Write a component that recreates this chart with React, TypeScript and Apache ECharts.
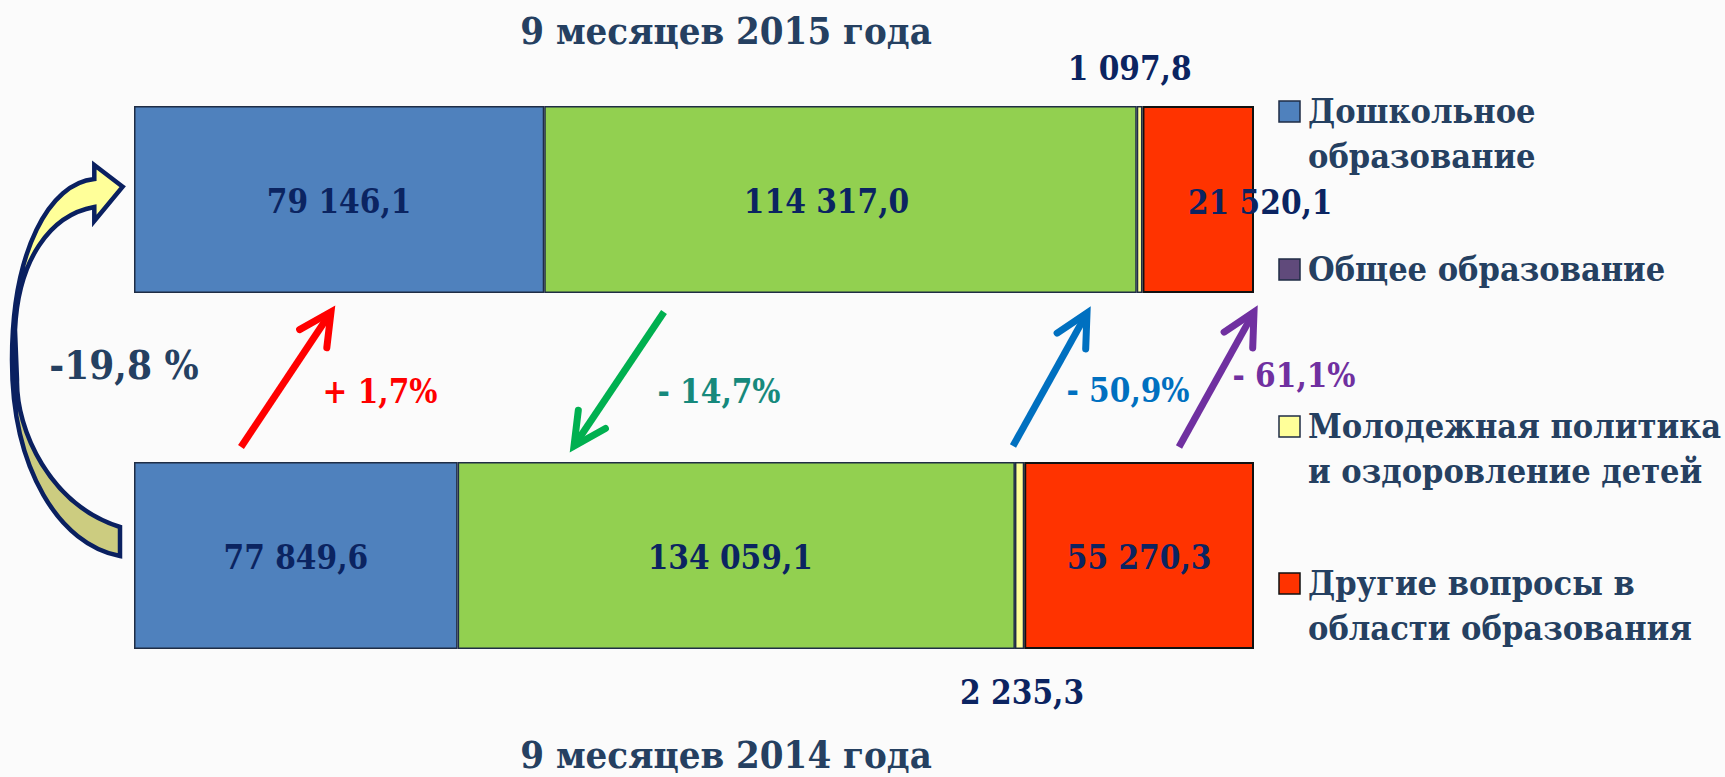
import React, { useEffect, useRef } from 'react';
import * as echarts from 'echarts';

// ---- data ----
const categories = [
  'Дошкольное образование',
  'Общее образование',
  'Молодежная политика и оздоровление детей',
  'Другие вопросы в области образования',
];
const values2015 = [79146.1, 114317.0, 1097.8, 21520.1];
const values2014 = [77849.6, 134059.1, 2235.3, 55270.3];
const periodLabels = ['9 месяцев 2015 года', '9 месяцев 2014 года'];
const segmentChanges = ['+ 1,7%', '- 14,7%', '- 50,9%', '- 61,1%'];
const totalChange = '-19,8 %';
const legendLines = [
  'Дошкольное\nобразование',
  'Общее образование',
  'Молодежная политика\nи оздоровление детей',
  'Другие вопросы в\nобласти образования',
];

// ---- styles ----
const barColors = ['#4f81bd', '#92d050', '#ffff99', '#ff3300'];
const legendColors = ['#4f81bd', '#604a7b', '#ffff99', '#ff3300'];
const arrowColors = ['#ff0000', '#00b050', '#0070c0', '#7030a0'];
const changeColors = ['#ff0000', '#16897c', '#0070c0', '#7030a0'];
const FONT = "'DejaVu Serif Condensed', 'DejaVu Serif', serif";
const TITLE_COLOR = '#254061';
const VALUE_COLOR = '#0b2461';

function fmt(v: number) {
  const [i, d] = v.toFixed(1).split('.');
  return i.replace(/\B(?=(\d{3})+(?!\d))/g, ' ') + ',' + d;
}

const arrowGeom = [
  { tail: [241, 447], tip: [331, 312], label: [380, 391] },
  { tail: [664, 312], tip: [574, 446], label: [719, 391] },
  { tail: [1013, 446], tip: [1087, 313], label: [1128, 390] },
  { tail: [1179, 447], tip: [1254, 312], label: [1294, 375] },
];

function arrowElements(tail: number[], tip: number[], color: string) {
  const dx = tail[0] - tip[0];
  const dy = tail[1] - tip[1];
  const L = Math.hypot(dx, dy);
  const ux = dx / L;
  const uy = dy / L;
  const len = 36;
  const a = (27 * Math.PI) / 180;
  const rot = (s: number) => [
    tip[0] + len * (ux * Math.cos(s * a) - uy * Math.sin(s * a)),
    tip[1] + len * (ux * Math.sin(s * a) + uy * Math.cos(s * a)),
  ];
  return [
    {
      type: 'line',
      shape: { x1: tail[0], y1: tail[1], x2: tip[0] + ux * 3, y2: tip[1] + uy * 3 },
      style: { stroke: color, lineWidth: 7, lineCap: 'butt' },
    },
    {
      type: 'polyline',
      shape: { points: [rot(1), tip, rot(-1)] },
      style: { stroke: color, lineWidth: 7, fill: null, lineJoin: 'miter', lineCap: 'round' },
    },
  ];
}

const CURVE_D =
  'M122.7 186.7 L94.3 165 L94.3 179 C50 183 12 250 12 360 C12 470 60 545 120 556 L120 527 C50 505 16 430 17 380 L15 330 C18 260 50 215 94.3 207 L94.3 221 Z';

let registered = false;

export default function App() {
  const ref = useRef<HTMLDivElement>(null);

  useEffect(() => {
    document.body.style.margin = '0';
    document.body.style.overflow = 'hidden';
    if (!registered) {
      echarts.graphic.registerShape('curvedArrow', echarts.graphic.extendPath(CURVE_D, {}));
      registered = true;
    }
    const chart = echarts.init(ref.current!, undefined, { renderer: 'svg' });

    const sum15 = values2015.reduce((a, b) => a + b, 0);
    const sum14 = values2014.reduce((a, b) => a + b, 0);

    const labelBase = {
      show: true,
      color: VALUE_COLOR,
      fontFamily: FONT,
      fontWeight: 'bold',
      fontSize: 33,
    };
    const labelCfg = [
      [
        { position: 'inside', offset: [0, 2] },
        { position: 'inside', offset: [-14, 2] },
        { position: ['50%', -37.5], align: 'center', verticalAlign: 'middle', offset: [-10, 0] },
        { position: 'inside', offset: [62, 3] },
      ],
      [
        { position: 'inside', offset: [0, 2] },
        { position: 'inside', offset: [-6, 2] },
        { position: ['50%', 230], align: 'center', verticalAlign: 'middle', offset: [2.5, 0] },
        { position: 'inside', offset: [0, 2] },
      ],
    ];

    const series: any[] = [];
    [values2015, values2014].forEach((vals, g) => {
      vals.forEach((v, i) => {
        series.push({
          type: 'bar',
          name: categories[i],
          xAxisIndex: g,
          yAxisIndex: g,
          stack: 'period' + g,
          barWidth: 187,
          data: [v],
          itemStyle: {
            color: barColors[i],
            borderColor: i === 3 ? '#111111' : '#1f2d45',
            borderWidth: i === 3 ? 2 : 1.5,
          },
          label: {
            ...labelBase,
            ...labelCfg[g][i],
            formatter: (p: any) => fmt(p.value),
          },
          emphasis: { disabled: true },
        });
      });
    });

    const graphics: any[] = [];
    // titles
    graphics.push({
      type: 'text',
      style: {
        text: periodLabels[0], x: 726, y: 30, fill: TITLE_COLOR, fontFamily: FONT,
        fontWeight: 'bold', fontSize: 38, align: 'center', verticalAlign: 'middle',
      },
    });
    graphics.push({
      type: 'text',
      style: {
        text: periodLabels[1], x: 726, y: 754, fill: TITLE_COLOR, fontFamily: FONT,
        fontWeight: 'bold', fontSize: 38, align: 'center', verticalAlign: 'middle',
      },
    });
    // curved arrow
    graphics.push({
      type: 'curvedArrow',
      x: 0,
      y: 0,
      style: {
        fill: {
          type: 'linear', x: 0, y: 0, x2: 0, y2: 1,
          colorStops: [
            { offset: 0, color: '#ffff99' },
            { offset: 0.5, color: '#ffff99' },
            { offset: 0.5, color: '#cccc80' },
            { offset: 1, color: '#cccc80' },
          ],
        },
        stroke: '#0a2060',
        lineWidth: 4.5,
        lineJoin: 'miter',
      },
    });
    graphics.push({
      type: 'text',
      style: {
        text: totalChange, x: 124, y: 364, fill: TITLE_COLOR, fontFamily: FONT,
        fontWeight: 'bold', fontSize: 40, align: 'center', verticalAlign: 'middle',
      },
    });
    // change arrows
    arrowGeom.forEach((a, i) => {
      graphics.push(...arrowElements(a.tail, a.tip, arrowColors[i]));
      graphics.push({
        type: 'text',
        z: 10,
        style: {
          text: segmentChanges[i], x: a.label[0], y: a.label[1], fill: changeColors[i],
          fontFamily: FONT, fontWeight: 'bold', fontSize: 33, align: 'center', verticalAlign: 'middle',
        },
      });
    });
    // legend
    const legendTop = [101, 259, 416, 573];
    const sq = 21;
    const lh = 45;
    legendLines.forEach((txt, i) => {
      graphics.push({
        type: 'rect',
        shape: { x: 1279, y: legendTop[i], width: sq, height: sq },
        style: {
          fill: legendColors[i],
          stroke: i === 3 ? '#111111' : '#1f2d45',
          lineWidth: 1.5,
        },
      });
      graphics.push({
        type: 'text',
        style: {
          text: txt, x: 1308, y: legendTop[i] + sq / 2 - 1 - lh / 2, fill: TITLE_COLOR, fontFamily: FONT,
          fontWeight: 'bold', fontSize: 34, lineHeight: lh, align: 'left', verticalAlign: 'top',
        },
      });
    });

    chart.setOption({
      animation: false,
      backgroundColor: '#fbfbfb',
      grid: [
        { left: 134, top: 106, width: 1120, height: 187 },
        { left: 134, top: 462, width: 1120, height: 187 },
      ],
      xAxis: [
        { type: 'value', gridIndex: 0, min: 0, max: sum15, show: false },
        { type: 'value', gridIndex: 1, min: 0, max: sum14, show: false },
      ],
      yAxis: [
        { type: 'category', gridIndex: 0, data: [periodLabels[0]], show: false },
        { type: 'category', gridIndex: 1, data: [periodLabels[1]], show: false },
      ],
      series,
      graphic: graphics,
    });

    return () => chart.dispose();
  }, []);

  return <div ref={ref} style={{ width: 1725, height: 777, background: '#fbfbfb' }} />;
}
